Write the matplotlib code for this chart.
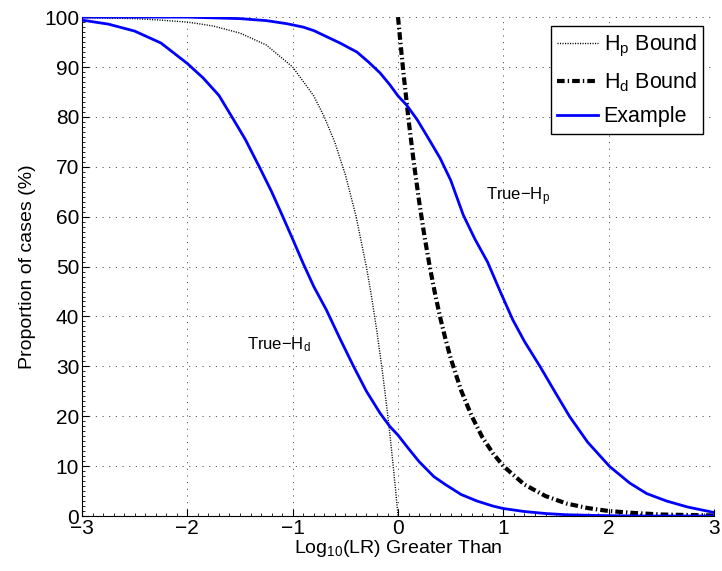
import matplotlib
matplotlib.use("Agg")
import matplotlib.pyplot as plt
from matplotlib.ticker import MultipleLocator

plt.rcParams['font.family'] = ['Liberation Sans', 'DejaVu Sans']
plt.rcParams['mathtext.fontset'] = 'custom'
plt.rcParams['mathtext.rm'] = 'Liberation Sans'
plt.rcParams['mathtext.it'] = 'Liberation Sans:italic'
plt.rcParams['mathtext.bf'] = 'Liberation Sans:bold'
plt.rcParams['lines.scale_dashes'] = False

# H_p bound (dotted)
hp_x = [-3, -2.5, -2.25, -2, -1.9, -1.75, -1.5, -1.25, -1, -0.8, -0.7, -0.6, -0.5,
        -0.4, -0.3, -0.25, -0.2, -0.15, -0.12, -0.1, -0.08, -0.05, -0.02, 0]
hp_y = [99.9, 99.7, 99.4, 99.0, 98.7, 98.2, 96.8, 94.4, 90.0, 84.2, 80.0, 74.9, 68.4,
        60.2, 49.9, 43.8, 36.9, 29.2, 24.1, 20.6, 16.8, 10.9, 4.5, 0]

# H_d bound (dash-dot)
hd_x = [0, 0.01, 0.02, 0.05, 0.1, 0.15, 0.2, 0.25, 0.3, 0.35, 0.4, 0.45, 0.5, 0.6,
        0.7, 0.8, 0.9, 1.0, 1.2, 1.4, 1.6, 1.8, 2.0, 2.25, 2.5, 2.75, 3.0]
hd_y = [100, 97.7, 95.5, 89.1, 79.4, 70.8, 63.1, 56.2, 50.1, 44.7, 39.8, 35.5, 31.6, 25.1,
        20.0, 15.8, 12.6, 10.0, 6.3, 4.0, 2.5, 1.6, 1.0, 0.6, 0.3, 0.2, 0.1]

# Example: true-Hp curve
tp_x = [-3, -2, -1.5, -1.25, -1.06, -0.9, -0.8, -0.68, -0.55, -0.39, -0.28, -0.17,
        -0.08, 0.0, 0.08, 0.18, 0.28, 0.40, 0.5, 0.62, 0.73, 0.85, 0.97, 1.09, 1.2,
        1.35, 1.5, 1.63, 1.8, 2.01, 2.2, 2.36, 2.55, 2.75, 3.0]
tp_y = [100, 100, 99.7, 99.3, 98.7, 98.0, 97.3, 96.1, 94.8, 93.0, 91.0, 88.8,
        86.5, 84.2, 82.4, 79.5, 76.0, 71.7, 67.3, 60.3, 55.5, 50.9, 45.0, 39.3, 35.0,
        29.9, 24.5, 19.9, 14.8, 9.9, 6.6, 4.5, 3.0, 1.8, 0.7]

# Example: true-Hd curve
td_x = [-3, -2.75, -2.5, -2.25, -2.0, -1.85, -1.7, -1.56, -1.45, -1.31, -1.2, -1.1,
        -1.0, -0.9, -0.8, -0.68, -0.55, -0.42, -0.3, -0.17, -0.08, 0.0, 0.1, 0.2,
        0.34, 0.45, 0.6, 0.75, 0.9, 1.0, 1.2, 1.4, 1.6, 1.9, 2.3, 3.0]
td_y = [99.4, 98.6, 97.2, 94.8, 90.7, 87.8, 84.3, 79.4, 75.5, 69.7, 65.0, 60.3,
        55.5, 50.6, 46.0, 41.3, 35.5, 29.9, 25.0, 20.6, 18.0, 16.2, 13.5, 10.9,
        7.9, 6.3, 4.3, 3.0, 2.0, 1.5, 0.9, 0.5, 0.25, 0.1, 0.0, 0.0]

fig = plt.figure(figsize=(7.22, 5.71), dpi=100)
ax = fig.add_axes([0.1136, 0.0963, 0.8754, 0.8737])

ax.plot(hp_x, hp_y, color='k', linewidth=1.0, linestyle=(0, (0.8, 1.0)),
        label=r'H$_\mathrm{p}$ Bound', zorder=3)
ax.plot(hd_x, hd_y, color='k', linewidth=3.0, dashes=(5.5, 2.2, 1.0, 2.2),
        label=r'H$_\mathrm{d}$ Bound', zorder=3)
ax.plot(tp_x, tp_y, color='#0000ff', linewidth=2.0, label='Example', zorder=4)
ax.plot(td_x, td_y, color='#0000ff', linewidth=2.0, zorder=4)

ax.text(0.836, 63.3, r'True$-$H$_\mathrm{p}$', fontsize=12, ha='left', va='baseline')
ax.text(-1.437, 33.4, r'True$-$H$_\mathrm{d}$', fontsize=12, ha='left', va='baseline')

ax.set_xlim(-3, 3)
ax.set_ylim(0, 100)
ax.xaxis.set_major_locator(MultipleLocator(1))
ax.yaxis.set_major_locator(MultipleLocator(10))
ax.xaxis.set_minor_locator(MultipleLocator(0.1))
ax.yaxis.set_minor_locator(MultipleLocator(1))
ax.tick_params(which='major', direction='in', length=5, width=0.8, labelsize=15, pad=2)
ax.tick_params(which='minor', direction='in', length=2.5, width=0.6)
ax.tick_params(top=False, right=False, which='both')
ax.spines['top'].set_visible(False)
ax.spines['right'].set_visible(False)
ax.spines['left'].set_linewidth(0.8)
ax.spines['bottom'].set_linewidth(0.8)

ax.grid(True, which='major', color='k', linestyle=(0, (0.8, 4.0)), linewidth=0.6, alpha=0.8)
ax.set_axisbelow(True)

ax.set_xlabel(r'Log$_{10}$(LR) Greater Than', fontsize=14, labelpad=0)
ax.set_ylabel('Proportion of cases (%)', fontsize=14, labelpad=6)

leg = ax.legend(loc='upper right', bbox_to_anchor=(0.99, 0.99), fontsize=15.5,
                frameon=True, fancybox=False, framealpha=1, edgecolor='k',
                handlelength=1.9, handletextpad=0.25, borderpad=0.3,
                labelspacing=0.55, borderaxespad=0.2)
leg.get_frame().set_linewidth(1.0)

fig.savefig('out.png', dpi=100)
